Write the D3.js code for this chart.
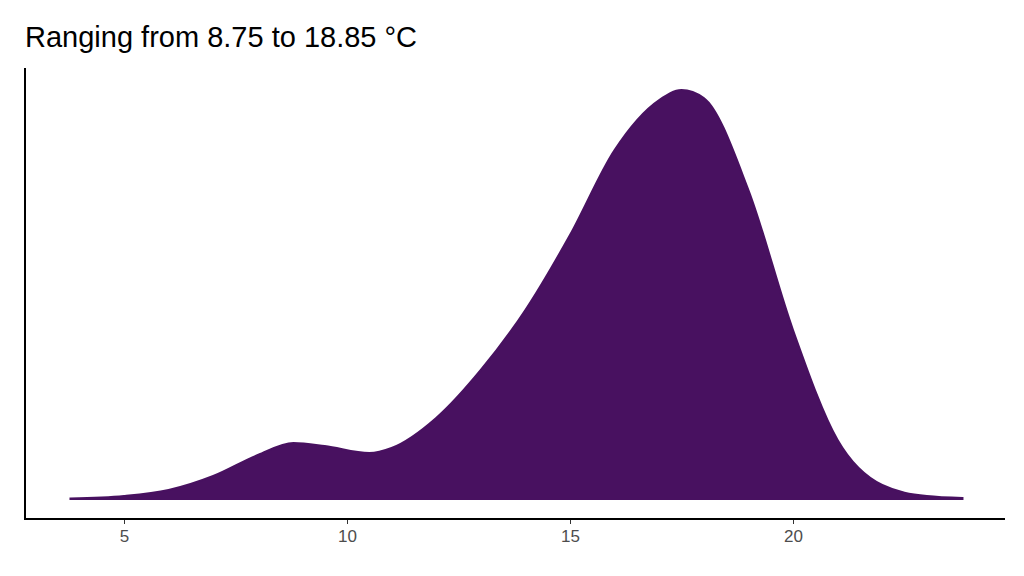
<!DOCTYPE html>
<html><head><meta charset="utf-8">
<script src="https://cdn.jsdelivr.net/npm/d3@7"></script>
<style>body{margin:0;background:#fff}</style>
</head><body>
<svg id="chart" width="1024" height="576"></svg>
<script>
// density estimate (relative units)
const temps = [3.8, 5, 6, 7, 8, 8.8, 9.5, 10.5, 11, 12, 13, 14, 15, 16, 17, 17.5, 18, 19, 20, 21, 22, 23, 23.8];
const density = [0.5, 3, 9, 23, 44, 56, 53, 46, 51, 81, 129, 189, 264, 349, 399, 409, 401, 309, 169, 59, 14, 3, 1];
const xTicks = [5, 10, 15, 20];
const title = "Ranging from 8.75 to 18.85 °C";

const svg = d3.select("#chart");
const x = d3.scaleLinear().domain([5, 20]).range([124, 793]);
const y = d3.scaleLinear().domain([0, 409]).range([499, 90]);
const pts = temps.map((t, i) => ({t, d: density[i]}));

svg.append("text").attr("x", 25).attr("y", 47)
  .attr("font-family", "Liberation Sans, Arial, sans-serif")
  .attr("font-size", 29).attr("fill", "#000").text(title);

// density area
svg.append("path").datum(pts)
  .attr("d", d3.area().x(d => x(d.t)).y0(y(0)).y1(d => y(d.d)).curve(d3.curveMonotoneX))
  .attr("fill", "#481160").attr("stroke", "#481160").attr("stroke-width", 2);

// axes
const xAxis = svg.append("g").attr("transform", "translate(0,519)")
  .call(d3.axisBottom(x).tickValues(xTicks).tickSize(5).tickPadding(6).tickSizeOuter(0));
xAxis.select(".domain").remove();
xAxis.selectAll("line").attr("stroke", "#333");
xAxis.selectAll("text").attr("font-family", "Liberation Sans, Arial, sans-serif")
  .attr("font-size", 17).attr("fill", "#4d4d4d");
svg.append("line").attr("x1", 24).attr("x2", 1005).attr("y1", 519).attr("y2", 519)
  .attr("stroke", "#000").attr("stroke-width", 2);
svg.append("line").attr("x1", 25).attr("x2", 25).attr("y1", 68).attr("y2", 520)
  .attr("stroke", "#000").attr("stroke-width", 2);
</script>
</body></html>
